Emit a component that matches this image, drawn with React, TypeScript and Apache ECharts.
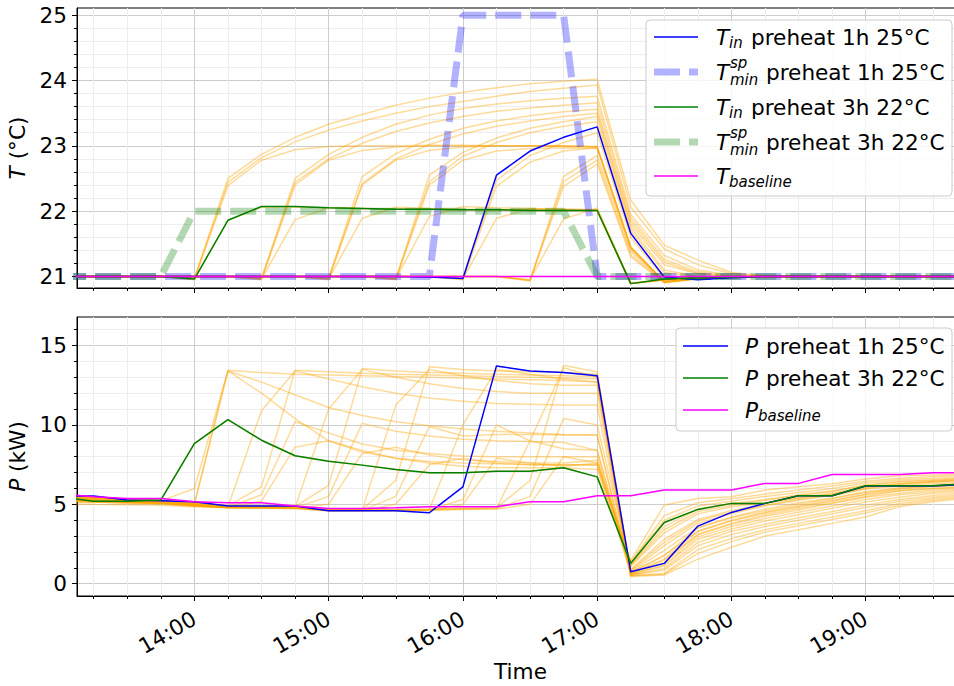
import { useEffect, useRef } from "react";
import * as echarts from "echarts";

const FONT = "DejaVu Sans";
const FS = 21.6;
const SUB = 15;
const MAJOR_GRID = "#cdcdcd";
const MINOR_GRID = "#ededed";

const times = ["13:00","13:15","13:30","13:45","14:00","14:15","14:30","14:45","15:00","15:15","15:30","15:45","16:00","16:15","16:30","16:45","17:00","17:15","17:30","17:45","18:00","18:15","18:30","18:45","19:00","19:15","19:30","19:45"];
const xTickLabels = ["14:00","15:00","16:00","17:00","18:00","19:00"];
const xMinorTicks = ["13:15","13:30","13:45","14:15","14:30","14:45","15:15","15:30","15:45","16:15","16:30","16:45","17:15","17:30","17:45","18:15","18:30","18:45","19:15","19:30"];
const tMajorTicks = [21, 22, 23, 24, 25];
const tMinorTicks = [21.2, 21.4, 21.6, 21.8, 22.2, 22.4, 22.6, 22.8, 23.2, 23.4, 23.6, 23.8, 24.2, 24.4, 24.6, 24.8];
const pMajorTicks = [0, 5, 10, 15];
const pMinorTicks = [1, 2, 3, 4, 6, 7, 8, 9, 11, 12, 13, 14, 16];

// Highlighted temperature series (°C)
const tIn1h = [21,21,21,21,21,21,21,21,21,21,21,20.99,20.97,22.55,22.92,23.13,23.29,21.66,20.99,20.95,20.98,21,21,21,21,21,21,21];
const tSp1h = [21,21,21,21,21,21,21,21,21,21,21,21,25,25,25,25,21,21,21,21,21,21,21,21,21,21,21,21];
const tIn3h = [21,21,21,21,20.96,21.86,22.07,22.07,22.05,22.04,22.03,22.03,22.02,22.02,22.01,22.01,22.01,20.89,20.96,20.98,20.99,21,21,21,21,21,21,21];
const tSp3h = [21,21,21,21,22,22,22,22,22,22,22,22,22,22,22,22,21,21,21,21,21,21,21,21,21,21,21,21];
const tBaseline = [21,21,21,21,21,21,21,21,21,21,21,21,21,21,21,21,21,21,21,21,21,21,21,21,21,21,21,21];

// Other preheat scenarios, temperature (°C)
const tOthers: number[][] = [
  [21,21,21,21,20.97,22.50,22.87,23.13,23.33,23.48,23.62,23.73,23.82,23.89,23.95,23.99,24.02,22.17,21.48,21.25,21.06,21.01,21,21,21,21,21,21],
  [21,21,21,21,20.97,22.44,22.82,23.06,23.24,23.38,23.50,23.60,23.68,23.76,23.83,23.88,23.93,22.06,21.42,21.18,21.04,21.00,21,21,21,21,21,21],
  [21,21,21,21,20.95,22.39,22.78,22.94,22.99,23.00,23.00,23.01,23.01,23.00,23.00,23.00,22.99,21.45,20.92,20.97,20.99,21,21,21,21,21,21,21],
  [21,21,21,21,20.96,21.86,22.06,22.06,22.05,22.04,22.03,22.03,22.02,22.02,22.01,22.01,22.01,20.89,20.95,20.98,20.99,21,21,21,21,21,21,21],
  [21,21,21,21,21,21,20.97,22.50,22.87,23.13,23.33,23.47,23.57,23.64,23.69,23.73,23.76,21.95,21.32,21.10,21.02,21,21,21,21,21,21,21],
  [21,21,21,21,21,21,20.97,22.44,22.80,23.04,23.22,23.35,23.45,23.53,23.58,23.62,23.66,21.90,21.26,21.07,21.01,21,21,21,21,21,21,21],
  [21,21,21,21,21,21,20.95,22.40,22.78,22.93,22.98,23.00,23.00,23.00,23.00,22.99,22.98,21.45,20.92,20.97,20.99,21,21,21,21,21,21,21],
  [21,21,21,21,21,21,20.96,21.87,22.05,22.04,22.03,22.03,22.02,22.02,22.02,22.01,22.01,20.89,20.95,20.98,20.99,21,21,21,21,21,21,21],
  [21,21,21,21,21,21,21,21,20.97,22.53,22.88,23.10,23.27,23.38,23.46,23.52,23.56,21.85,21.22,21.05,21.00,21,21,21,21,21,21,21],
  [21,21,21,21,21,21,21,21,20.97,22.42,22.80,23.02,23.18,23.30,23.38,23.45,23.50,21.80,21.18,21.04,21.00,21,21,21,21,21,21,21],
  [21,21,21,21,21,21,21,21,20.95,22.40,22.78,22.93,22.98,23.00,23.00,23.00,22.98,21.45,20.92,20.97,20.99,21,21,21,21,21,21,21],
  [21,21,21,21,21,21,21,21,20.96,21.89,22.06,22.04,22.03,22.02,22.02,22.02,22.01,20.89,20.95,20.98,20.99,21,21,21,21,21,21,21],
  [21,21,21,21,21,21,21,21,21,21,20.96,22.55,22.90,23.12,23.27,23.37,23.45,21.75,21.10,21.00,21.00,21,21,21,21,21,21,21],
  [21,21,21,21,21,21,21,21,21,21,20.96,22.45,22.84,23.05,23.20,23.30,23.37,21.70,21.06,21.00,21.00,21,21,21,21,21,21,21],
  [21,21,21,21,21,21,21,21,21,21,20.95,22.40,22.78,22.92,22.96,22.97,22.96,21.42,20.91,20.97,20.99,21,21,21,21,21,21,21],
  [21,21,21,21,21,21,21,21,21,21,20.96,21.92,22.07,22.05,22.04,22.03,22.02,20.89,20.95,20.98,20.99,21,21,21,21,21,21,21],
  [21,21,21,21,21,21,21,21,21,21,21,21,20.97,22.47,22.85,23.05,23.20,21.60,20.97,20.96,20.98,21,21,21,21,21,21,21],
  [21,21,21,21,21,21,21,21,21,21,21,21,20.95,22.38,22.75,22.92,22.97,21.43,20.91,20.97,20.99,21,21,21,21,21,21,21],
  [21,21,21,21,21,21,21,21,21,21,21,21,20.96,21.89,22.04,22.03,22.02,20.89,20.95,20.98,20.99,21,21,21,21,21,21,21],
  [21,21,21,21,21,21,21,21,21,21,21,21,21,21,20.93,22.53,22.85,21.38,20.92,20.97,20.99,21,21,21,21,21,21,21],
  [21,21,21,21,21,21,21,21,21,21,21,21,21,21,20.94,22.45,22.78,21.33,20.91,20.97,20.99,21,21,21,21,21,21,21],
  [21,21,21,21,21,21,21,21,21,21,21,21,21,21,20.94,22.38,22.72,21.30,20.90,20.96,20.99,21,21,21,21,21,21,21],
  [21,21,21,21,21,21,21,21,21,21,21,21,21,21,20.95,21.88,22.05,20.90,20.95,20.98,20.99,21,21,21,21,21,21,21],
];

// Highlighted power series (kW)
const pIn1h = [5.52,5.52,5.27,5.23,5.16,4.89,4.89,4.89,4.60,4.60,4.60,4.47,6.10,13.72,13.40,13.30,13.10,0.76,1.28,3.63,4.49,5.06,5.54,5.54,6.15,6.15,6.15,6.27];
const pIn3h = [5.45,5.20,5.20,5.27,8.83,10.34,9.04,8.06,7.72,7.47,7.20,6.99,6.99,7.09,7.09,7.30,6.73,1.28,3.86,4.68,5.06,5.06,5.54,5.54,6.17,6.17,6.17,6.30];
const pBaseline = [5.65,5.47,5.37,5.37,5.16,5.10,5.10,4.89,4.74,4.74,4.78,4.85,4.85,4.85,5.16,5.16,5.54,5.54,5.90,5.90,5.90,6.32,6.32,6.88,6.88,6.88,6.99,6.99];

// Other preheat scenarios, power (kW)
const pOthers: number[][] = [
  [5.50,5.45,5.30,5.22,6.00,13.45,13.30,13.20,13.15,13.10,13.05,13.00,12.95,12.90,12.85,12.80,12.70,0.45,0.55,1.55,2.30,3.00,3.40,3.80,4.20,4.85,5.16,5.40],
  [5.40,5.35,5.20,5.15,5.05,13.40,12.70,11.90,11.10,10.60,10.20,9.95,9.75,9.60,9.50,9.40,9.36,0.50,0.60,1.90,2.65,3.25,3.65,4.05,4.45,4.95,5.25,5.45],
  [5.30,5.25,5.15,5.10,5.00,13.40,12.00,10.40,9.00,8.30,7.90,7.70,7.60,7.55,7.50,7.50,7.47,0.65,1.50,3.10,3.80,4.35,4.75,5.10,5.50,5.85,6.00,6.10],
  [5.45,5.20,5.20,5.27,8.83,10.34,9.04,8.06,7.72,7.47,7.20,6.99,6.99,7.09,7.09,7.30,6.73,1.28,3.86,4.68,5.06,5.06,5.54,5.54,6.17,6.17,6.17,6.30],
  [5.50,5.45,5.30,5.22,5.10,4.90,6.10,13.45,13.35,13.25,13.20,13.15,13.10,13.05,13.00,12.95,12.90,0.50,0.65,2.15,2.85,3.40,3.80,4.20,4.60,5.05,5.35,5.55],
  [5.40,5.35,5.20,5.15,5.00,4.85,10.90,13.40,12.90,12.40,12.00,11.70,11.50,11.35,11.30,11.25,11.25,0.55,0.85,2.40,3.10,3.60,4.00,4.40,4.80,5.20,5.45,5.65],
  [5.30,5.25,5.15,5.10,4.95,4.80,5.60,10.20,9.50,8.80,8.40,8.20,8.05,8.00,8.00,8.00,8.00,0.70,1.80,3.30,4.00,4.50,4.90,5.25,5.65,5.95,6.10,6.20],
  [5.20,5.15,5.10,5.05,4.90,4.80,5.20,8.60,9.00,8.40,7.90,7.60,7.40,7.30,7.30,7.30,7.20,1.10,3.20,4.40,4.85,5.10,5.40,5.65,6.05,6.30,6.40,6.50],
  [5.50,5.45,5.30,5.22,5.10,4.90,4.90,4.85,6.20,13.55,13.40,13.30,13.25,13.20,13.15,13.10,13.03,0.55,0.95,2.60,3.30,3.75,4.15,4.55,4.95,5.30,5.55,5.75],
  [5.40,5.35,5.20,5.15,5.00,4.85,4.85,4.80,11.00,13.50,13.00,12.60,12.30,12.10,12.00,12.00,12.00,0.60,1.10,2.80,3.45,3.95,4.35,4.75,5.15,5.45,5.70,5.85],
  [5.30,5.25,5.15,5.10,4.95,4.80,4.80,4.78,5.50,10.10,9.60,9.30,9.10,9.00,8.95,8.90,8.40,0.75,2.10,3.55,4.20,4.70,5.10,5.40,5.80,6.05,6.20,6.30],
  [5.20,5.15,5.10,5.05,4.90,4.80,4.78,4.75,5.00,8.20,8.60,8.10,7.80,7.70,7.60,7.60,7.78,1.20,3.60,4.70,5.05,5.30,5.60,5.85,6.20,6.40,6.50,6.60],
  [5.50,5.45,5.30,5.22,5.10,4.90,4.90,4.85,4.70,4.68,6.50,13.66,13.50,13.40,13.35,13.30,13.20,0.58,1.20,2.95,3.60,4.10,4.50,4.90,5.30,5.60,5.80,5.95],
  [5.40,5.35,5.20,5.15,5.00,4.85,4.85,4.80,4.65,4.65,11.25,13.50,13.10,12.80,12.60,12.50,12.50,0.62,1.35,3.10,3.75,4.25,4.65,5.05,5.45,5.70,5.90,6.00],
  [5.30,5.25,5.15,5.10,4.95,4.80,4.80,4.78,4.62,4.62,5.50,9.90,9.30,9.40,9.40,9.36,9.36,0.80,2.40,3.80,4.40,4.90,5.25,5.55,5.95,6.15,6.30,6.40],
  [5.20,5.15,5.10,5.05,4.90,4.80,4.78,4.75,4.60,4.60,5.00,7.50,7.90,7.60,7.50,7.50,7.47,1.30,4.00,4.90,5.20,5.50,5.75,6.00,6.35,6.55,6.65,6.70],
  [5.40,5.35,5.20,5.15,5.00,4.85,4.85,4.80,4.65,4.65,4.65,4.68,10.00,13.50,13.20,12.90,12.70,0.65,1.55,3.30,3.95,4.45,4.85,5.20,5.60,5.85,6.00,6.10],
  [5.30,5.25,5.15,5.10,4.95,4.80,4.80,4.78,4.62,4.62,4.62,4.65,5.30,10.00,9.00,8.50,8.40,0.90,2.80,4.05,4.60,5.05,5.40,5.70,6.10,6.30,6.45,6.55],
  [5.20,5.15,5.10,5.05,4.90,4.80,4.78,4.75,4.60,4.60,4.60,4.62,5.00,7.90,7.60,7.40,7.60,1.35,4.30,5.10,5.35,5.65,5.90,6.15,6.45,6.65,6.75,6.80],
  [5.50,5.45,5.30,5.22,5.10,4.90,4.90,4.85,4.70,4.68,4.68,4.70,4.75,4.78,6.50,13.76,13.34,0.70,1.75,3.50,4.15,4.60,5.00,5.35,5.75,6.00,6.15,6.25],
  [5.40,5.35,5.20,5.15,5.00,4.85,4.85,4.80,4.65,4.65,4.65,4.68,4.72,4.75,9.00,13.60,13.00,0.85,2.60,3.95,4.50,4.95,5.30,5.60,6.00,6.25,6.40,6.50],
  [5.30,5.25,5.15,5.10,4.95,4.80,4.80,4.78,4.62,4.62,4.62,4.65,4.70,4.72,5.50,10.40,10.00,1.15,3.40,4.55,4.95,5.25,5.55,5.80,6.20,6.45,6.55,6.65],
  [5.05,5.00,4.98,4.95,4.85,4.78,4.75,4.72,4.60,4.60,4.60,4.62,4.68,4.70,5.00,8.00,7.60,1.45,4.96,5.37,5.48,5.90,6.10,6.30,6.60,6.80,6.85,6.90],
];

const toHours = (s: string) => {
  const [h, m] = s.split(":").map(Number);
  return h + m / 60;
};
const hours = times.map(toHours);
const xMajorVals = xTickLabels.map(toHours);
const xMinorVals = xMinorTicks.map(toHours);

const X_MIN = 13.126;
const X_MAX = 19.732;
const T_MIN = 20.823;
const T_MAX = 25.11;
const P_MIN = -0.774;
const P_MAX = 16.8;

const pts = (vals: number[]) => vals.map((v, i) => [hours[i], v]);

function lineSeries(vals: number[], xi: number, yi: number, color: string, width: number, dash?: number[]) {
  return {
    type: "line",
    xAxisIndex: xi,
    yAxisIndex: yi,
    data: pts(vals),
    symbol: "none",
    showSymbol: false,
    silent: true,
    clip: true,
    lineStyle: { color, width, type: dash ? dash : "solid", cap: "butt" },
  };
}

function minorX(gridIndex: number) {
  return {
    type: "value", gridIndex, min: X_MIN, max: X_MAX, position: "bottom",
    axisLine: { show: false, onZero: false },
    axisTick: { show: true, customValues: xMinorVals, length: 3, lineStyle: { color: "#000", width: 1 } },
    axisLabel: { show: false },
    splitLine: { show: true, lineStyle: { color: MINOR_GRID, width: 1 } },
  };
}
function majorX(gridIndex: number, labels: boolean) {
  return {
    type: "value", gridIndex, min: X_MIN, max: X_MAX, position: "bottom",
    axisLine: { show: true, onZero: false, lineStyle: { color: "#000", width: 1 } },
    axisTick: { show: true, customValues: xMajorVals, length: 5, lineStyle: { color: "#000", width: 1 } },
    axisLabel: {
      show: labels, customValues: xMajorVals, rotate: 30, margin: 21,
      fontSize: FS, fontFamily: FONT, color: "#000",
      formatter: (v: number) => {
        const idx = xMajorVals.findIndex((h) => Math.abs(h - v) < 1e-6);
        return idx >= 0 ? xTickLabels[idx] : "";
      },
    },
    splitLine: { show: true, lineStyle: { color: MAJOR_GRID, width: 1 } },
    name: labels ? "Time" : "",
    nameLocation: "middle",
    nameGap: 63,
    nameTextStyle: { fontSize: FS, fontFamily: FONT, color: "#000" },
  };
}
function minorY(gridIndex: number, min: number, max: number, ticks: number[]) {
  return {
    type: "value", gridIndex, min, max, position: "left",
    axisLine: { show: false, onZero: false },
    axisTick: { show: true, customValues: ticks, length: 3, lineStyle: { color: "#000", width: 1 } },
    axisLabel: { show: false },
    splitLine: { show: true, lineStyle: { color: MINOR_GRID, width: 1 } },
  };
}
function majorY(gridIndex: number, min: number, max: number, ticks: number[], name: string) {
  return {
    type: "value", gridIndex, min, max, position: "left",
    axisLine: { show: true, onZero: false, lineStyle: { color: "#000", width: 1 } },
    axisTick: { show: true, customValues: ticks, length: 5, lineStyle: { color: "#000", width: 1 } },
    axisLabel: {
      show: true, customValues: ticks, margin: 10,
      fontSize: FS, fontFamily: FONT, color: "#000",
      formatter: (v: number) => String(v),
    },
    splitLine: { show: true, lineStyle: { color: MAJOR_GRID, width: 1 } },
    name,
    nameLocation: "middle",
    nameGap: 44,
    nameTextStyle: {
      fontSize: FS, fontFamily: FONT, color: "#000",
      rich: { i: { fontStyle: "italic", fontSize: FS, fontFamily: FONT, color: "#000" } },
    },
  };
}

const BLUE = "#0000ff";
const GREEN = "#008000";
const MAGENTA = "#ff00ff";
const ORANGE = "rgba(255,165,0,0.4)";
const BLUE_SP = "rgba(0,0,255,0.3)";
const GREEN_SP = "rgba(0,128,0,0.3)";
const DASH = [26, 9];

function text(x: number, y: number, t: string, size: number, italic: boolean) {
  return {
    type: "text", x, y, z: 102, silent: true,
    style: {
      text: t, fill: "#000", fontSize: size, fontFamily: FONT,
      fontStyle: italic ? "italic" : "normal", align: "left", verticalAlign: "middle",
    },
  };
}
function handle(x1: number, x2: number, y: number, stroke: string, lw: number, dash?: number[]) {
  return {
    type: "line", z: 101, silent: true,
    shape: { x1, y1: y, x2, y2: y },
    style: { stroke, lineWidth: lw, lineDash: dash || null, lineCap: "butt" },
  };
}

function buildLegend() {
  const els: any[] = [];
  // top legend
  els.push({ type: "rect", z: 100, silent: true, shape: { x: 646, y: 20, width: 306, height: 176, r: 4 },
    style: { fill: "rgba(255,255,255,0.8)", stroke: "#cccccc", lineWidth: 1 } });
  const hx1 = 654, hx2 = 698, tx = 716;
  const rows = [37, 72, 107, 142, 176];
  els.push(handle(hx1, hx2, rows[0], BLUE, 1.5));
  els.push(text(tx, rows[0], "T", FS, true), text(729, rows[0] + 6, "in", SUB, true), text(751, rows[0], "preheat 1h 25°C", FS, false));
  els.push(handle(hx1, hx2, rows[1], BLUE_SP, 7, DASH));
  els.push(text(tx, rows[1], "T", FS, true), text(730, rows[1] - 9, "sp", SUB, true), text(730, rows[1] + 8, "min", SUB, true), text(766, rows[1], "preheat 1h 25°C", FS, false));
  els.push(handle(hx1, hx2, rows[2], GREEN, 1.5));
  els.push(text(tx, rows[2], "T", FS, true), text(729, rows[2] + 6, "in", SUB, true), text(751, rows[2], "preheat 3h 22°C", FS, false));
  els.push(handle(hx1, hx2, rows[3], GREEN_SP, 7, DASH));
  els.push(text(tx, rows[3], "T", FS, true), text(730, rows[3] - 9, "sp", SUB, true), text(730, rows[3] + 8, "min", SUB, true), text(766, rows[3], "preheat 3h 22°C", FS, false));
  els.push(handle(hx1, hx2, rows[4], MAGENTA, 1.5));
  els.push(text(tx, rows[4], "T", FS, true), text(729, rows[4] + 6, "baseline", SUB, true));

  // bottom legend
  els.push({ type: "rect", z: 100, silent: true, shape: { x: 676, y: 328, width: 276, height: 103, r: 4 },
    style: { fill: "rgba(255,255,255,0.8)", stroke: "#cccccc", lineWidth: 1 } });
  const bx1 = 683, bx2 = 728, px = 745;
  const brows = [346, 378, 410];
  els.push(handle(bx1, bx2, brows[0], BLUE, 1.5));
  els.push(text(px, brows[0], "P", FS, true), text(766, brows[0], "preheat 1h 25°C", FS, false));
  els.push(handle(bx1, bx2, brows[1], GREEN, 1.5));
  els.push(text(px, brows[1], "P", FS, true), text(766, brows[1], "preheat 3h 22°C", FS, false));
  els.push(handle(bx1, bx2, brows[2], MAGENTA, 1.5));
  els.push(text(px, brows[2], "P", FS, true), text(758, brows[2] + 6, "baseline", SUB, true));
  return els;
}

export default function App() {
  const ref = useRef<HTMLDivElement>(null);
  useEffect(() => {
    if (!ref.current) return;
    const chart = echarts.init(ref.current, null, { renderer: "svg", width: 954, height: 686 });
    const series: any[] = [];
    tOthers.forEach((arr) => series.push(lineSeries(arr, 1, 1, ORANGE, 1.5)));
    series.push(lineSeries(tIn1h, 1, 1, BLUE, 1.5));
    series.push(lineSeries(tSp1h, 1, 1, BLUE_SP, 7, DASH));
    series.push(lineSeries(tIn3h, 1, 1, GREEN, 1.5));
    series.push(lineSeries(tSp3h, 1, 1, GREEN_SP, 7, DASH));
    series.push(lineSeries(tBaseline, 1, 1, MAGENTA, 1.5));
    pOthers.forEach((arr) => series.push(lineSeries(arr, 3, 3, ORANGE, 1.5)));
    series.push(lineSeries(pIn1h, 3, 3, BLUE, 1.5));
    series.push(lineSeries(pIn3h, 3, 3, GREEN, 1.5));
    series.push(lineSeries(pBaseline, 3, 3, MAGENTA, 1.5));

    const option: any = {
      animation: false,
      backgroundColor: "#ffffff",
      textStyle: { fontFamily: FONT },
      grid: [
        { left: 77, top: 8, width: 887, height: 280, show: true, borderColor: "#000", borderWidth: 1, backgroundColor: "transparent", containLabel: false, outerBoundsMode: "none" },
        { left: 77, top: 317, width: 887, height: 279, show: true, borderColor: "#000", borderWidth: 1, backgroundColor: "transparent", containLabel: false, outerBoundsMode: "none" },
      ],
      xAxis: [minorX(0), majorX(0, false), minorX(1), majorX(1, true)],
      yAxis: [
        minorY(0, T_MIN, T_MAX, tMinorTicks),
        majorY(0, T_MIN, T_MAX, tMajorTicks, "{i|T} (°C)"),
        minorY(1, P_MIN, P_MAX, pMinorTicks),
        majorY(1, P_MIN, P_MAX, pMajorTicks, "{i|P} (kW)"),
      ],
      series,
      graphic: { elements: buildLegend() },
    };
    chart.setOption(option);
    return () => chart.dispose();
  }, []);
  return <div ref={ref} style={{ position: "absolute", left: 0, top: 0, width: 954, height: 686 }} />;
}
